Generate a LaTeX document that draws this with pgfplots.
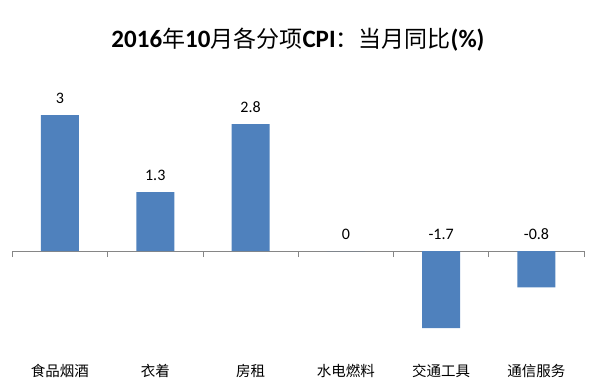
\documentclass[border=0pt]{standalone}
\usepackage{fontspec}
\setmainfont{Carlito}
\newfontfamily\cjk{Noto Sans CJK SC}
\usepackage{pgfplots}
\pgfplotsset{compat=1.18}
\definecolor{barblue}{HTML}{4F81BD}
\definecolor{axgray}{HTML}{868686}
\newcommand{\tc}[1]{{\cjk\mdseries\fontsize{23}{24}\selectfont #1}}
\begin{document}
\begin{tikzpicture}
\path[use as bounding box] (0,0) rectangle (594pt,391pt);
\node at (298pt,351pt) {\bfseries\fontsize{25}{26}\selectfont 2016\tc{年}10\tc{月各分项}CPI\tc{：当月同比}(\%)};
\begin{axis}[at={(12.3pt,49.3pt)}, anchor=south west, scale only axis,
  width=571.8pt, height=272pt,
  xmin=-0.5, xmax=5.5, ymin=-2, ymax=4,
  axis x line=middle, axis y line=none,
  x axis line style={-,draw=axgray, line width=0.8pt},
  xtick={-0.5,0.5,...,5.5}, xticklabels={},
  major tick length=6pt, tick align=outside,
  xtick style={draw=axgray, line width=0.8pt},
  ytick=\empty, clip=false, enlargelimits=false]
\addplot[ybar, bar width=38pt, fill=barblue, draw=none] coordinates {(0,3) (1,1.3) (2,2.8) (3,0) (4,-1.7) (5,-0.8)};
\addplot[draw=none, mark=none, nodes near coords, point meta=explicit symbolic,
  nodes near coords style={anchor=base, yshift=12pt, font=\fontsize{16}{16}\selectfont, inner sep=0pt}]
  table[meta=lab] {
x y lab
0 3 3
1 1.3 1.3
2 2.8 2.8
3 0 0
4 0 -1.7
5 0 -0.8
};
\addplot[draw=none, mark=none, nodes near coords, point meta=explicit symbolic,
  nodes near coords style={anchor=base, yshift=-35pt, font=\cjk\fontsize{14.5}{15}\selectfont, inner sep=0pt}]
  table[meta=lab] {
x y lab
0 -2 食品烟酒
1 -2 衣着
2 -2 房租
3 -2 水电燃料
4 -2 交通工具
5 -2 通信服务
};
\end{axis}
\end{tikzpicture}
\end{document}
